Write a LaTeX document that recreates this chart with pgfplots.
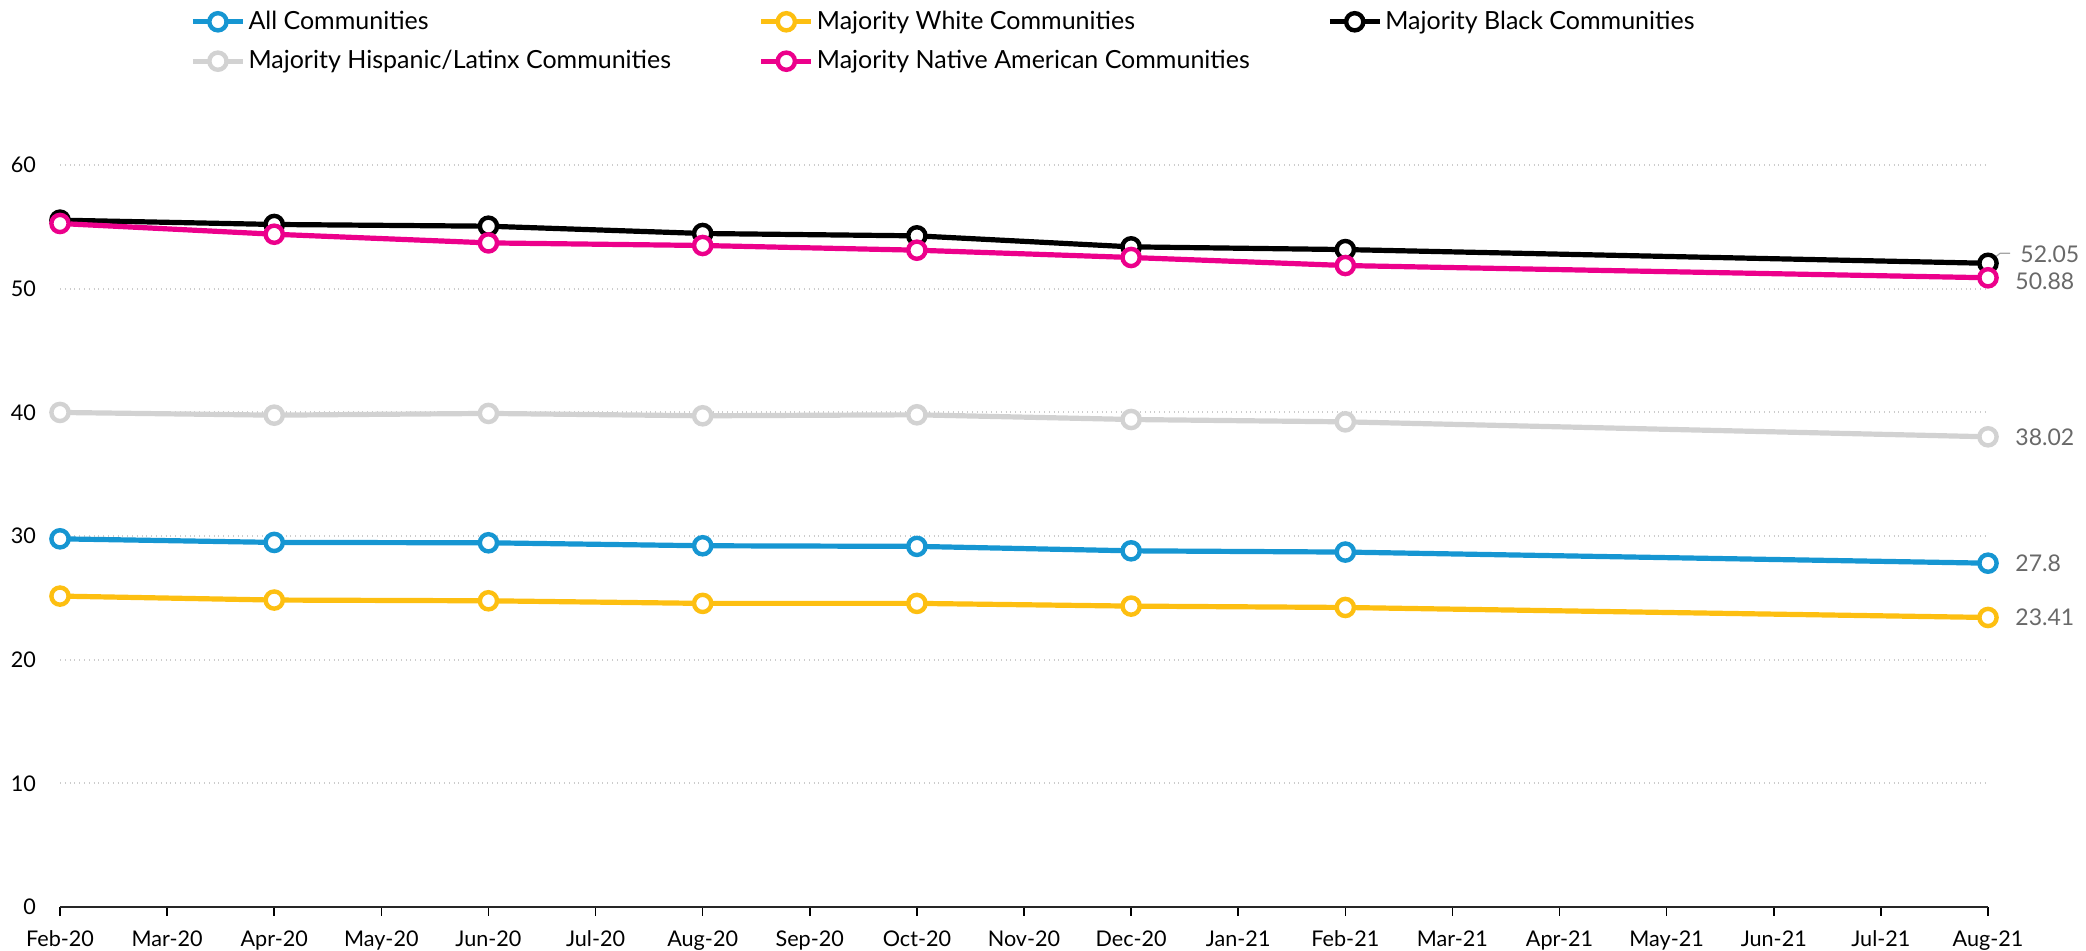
\documentclass[border=0pt]{standalone}
\usepackage{fontspec}
\setmainfont{Lato}
\usepackage{pgfplots}
\pgfplotsset{compat=1.18}
\definecolor{cblue}{HTML}{1696D2}
\definecolor{cyellow}{HTML}{FDBF11}
\definecolor{cblack}{HTML}{000000}
\definecolor{cgray}{HTML}{D2D2D2}
\definecolor{cmag}{HTML}{EC008B}
\definecolor{labgray}{HTML}{696969}
\definecolor{gridc}{HTML}{CCCCCC}
\begin{document}
\begin{tikzpicture}
\begin{axis}[
  at={(0,0)}, anchor=south west,
  scale only axis, width=964pt, height=371pt,
  xmin=0, xmax=18, ymin=0, ymax=60,
  clip=false,
  axis x line*=bottom, axis y line*=left,
  y axis line style={draw=none},
  x axis line style={line width=1.2pt, color=black!85},
  xtick={0,...,18},
  xticklabels={Feb-20,Mar-20,Apr-20,May-20,Jun-20,Jul-20,Aug-20,Sep-20,Oct-20,Nov-20,Dec-20,Jan-21,Feb-21,Mar-21,Apr-21,May-21,Jun-21,Jul-21,Aug-21},
  ytick={0,10,...,60},
  tick align=outside,
  xtick style={line width=0.8pt, color=black},
  major tick length=4.5pt,
  ytick style={draw=none},
  ymajorgrids,
  major grid style={dotted, line width=0.9pt, color=gridc},
  tick label style={font=\fontsize{10.8}{12}\selectfont, color=black},
  /pgf/number format/assume math mode=true,
  yticklabel style={xshift=-4pt},
  xticklabel style={yshift=-4pt},
  every axis plot/.append style={line width=2.6pt, mark=*, mark size=4.3pt, mark options={fill=white, line width=2.2pt}},
  legend columns=3,
  legend style={at={(0.0674,1.212)}, anchor=north west, draw=none, fill=none, inner sep=0pt,
    font=\fontsize{12.5}{14}\selectfont, row sep=6pt,
    nodes={inner sep=1.5pt}},
  legend cell align=left,
  legend image code/.code={\draw[mark repeat=2,mark phase=2,#1] plot coordinates {(0pt,0pt) (12.5pt,0pt) (25pt,0pt)};},
]
\addplot[color=cblue] coordinates {(0,29.77) (2,29.48) (4,29.45) (6,29.21) (8,29.16) (10,28.80) (12,28.70) (18,27.80)};
\addlegendentry{\makebox[253.6pt][l]{All Communities}}
\addplot[color=cyellow] coordinates {(0,25.14) (2,24.82) (4,24.76) (6,24.55) (8,24.55) (10,24.33) (12,24.22) (18,23.41)};
\addlegendentry{\makebox[253.6pt][l]{Majority White Communities}}
\addplot[color=cblack] coordinates {(0,55.54) (2,55.19) (4,55.05) (6,54.46) (8,54.27) (10,53.38) (12,53.16) (18,52.05)};
\addlegendentry{\makebox[253.6pt][l]{Majority Black Communities}}
\addplot[color=cgray] coordinates {(0,39.99) (2,39.77) (4,39.91) (6,39.72) (8,39.80) (10,39.42) (12,39.23) (18,38.02)};
\addlegendentry{\makebox[253.6pt][l]{Majority Hispanic/Latinx Communities}}
\addplot[color=cmag] coordinates {(0,55.27) (2,54.40) (4,53.70) (6,53.49) (8,53.11) (10,52.52) (12,51.87) (18,50.88)};
\addlegendentry{\makebox[253.6pt][l]{Majority Native American Communities}}
\begin{scope}[font=\fontsize{11.5}{13}\selectfont, text=labgray]
\draw[labgray!60, line width=0.6pt] (axis cs:18,52.05) ++(1pt,1pt) -- ++(5pt,4pt) -- ++(5pt,0pt);
\node[anchor=west, inner sep=0pt] at ([xshift=16pt,yshift=4.5pt]axis cs:18,52.05) {52.05};
\node[anchor=west, inner sep=0pt] at ([xshift=13.5pt,yshift=-1.5pt]axis cs:18,50.88) {50.88};
\node[anchor=west, inner sep=0pt] at ([xshift=13.5pt]axis cs:18,38.02) {38.02};
\node[anchor=west, inner sep=0pt] at ([xshift=13.5pt]axis cs:18,27.80) {27.8};
\node[anchor=west, inner sep=0pt] at ([xshift=13.5pt]axis cs:18,23.41) {23.41};
\end{scope}
\end{axis}
\pgfresetboundingbox
\path[use as bounding box] (-30pt,-22pt) rectangle (1013pt,453.5pt);
\end{tikzpicture}
\end{document}
